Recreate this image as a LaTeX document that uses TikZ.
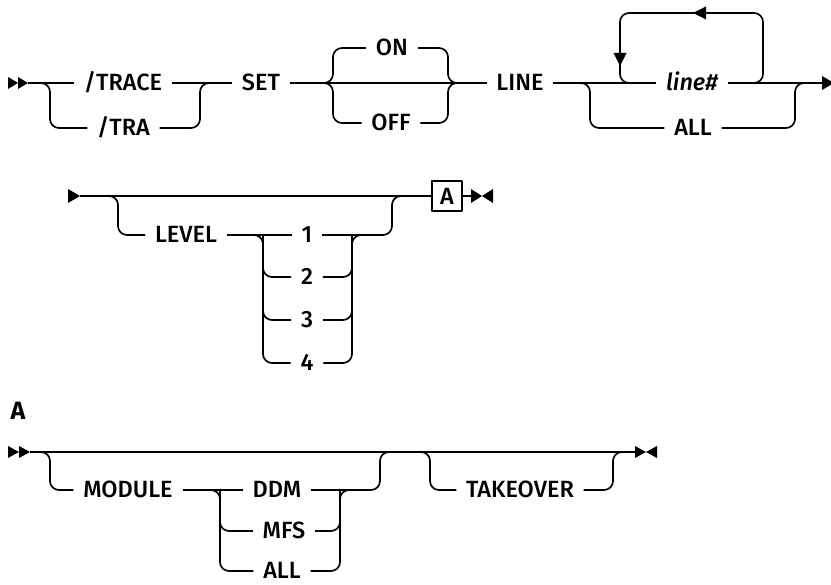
\documentclass[tikz,border=0pt]{standalone}
\usepackage{fontspec}
\setmainfont{Fira Sans}
\newfontfamily\kwfont{Fira Sans Medium}[ItalicFont={Fira Sans Medium Italic}]
\newfontfamily\headfont{Fira Sans}
\begin{document}
\begin{tikzpicture}[x=1pt,y=-1pt, line width=1.7pt, line join=round,
  kw/.style={inner xsep=9pt, inner ysep=0pt, text height=15pt, text depth=0pt, font=\kwfont\fontsize{23.5}{23.5}\selectfont},
  rnd/.style={rounded corners=9pt},
  refbox/.style={draw, line width=1.5pt, minimum width=30pt, minimum height=30pt, inner sep=0pt, font=\kwfont\fontsize{23.5}{23.5}\selectfont},
  tipfill/.style={fill=black, draw=none}]
\useasboundingbox (0,0) rectangle (831,585);

% ---------- Row 1 ----------
\node[kw] (trace) at (123,83) {/TRACE};
\node[kw] (tra) at (123.5,128) {/TRA};
\node[kw] (set) at (261,83) {SET};
\node[kw] (on) at (392,48) {ON};
\node[kw] (off) at (391,123) {OFF};
\node[kw] (line) at (520,83) {LINE};
\node[kw] (linenum) at (692,83) {\itshape line\#};
\node[kw] (all1) at (693,128) {ALL};

\coordinate (start1) at (28,83);
\coordinate (end1) at (823,83);
\coordinate (v1L) at (50,83);
\coordinate (v1R) at (200,83);
\coordinate (v2L) at (333,83);
\coordinate (v2R) at (448,83);
\coordinate (lpBL) at (620,83);
\coordinate (lpTL) at (620,13);
\coordinate (lpTR) at (763,13);
\coordinate (lpBR) at (763,83);
\coordinate (v3L) at (590,83);
\coordinate (v3R) at (795,83);

\fill[tipfill] (8,77) -- (18,83) -- (8,89) -- cycle;
\fill[tipfill] (18,77) -- (28,83) -- (18,89) -- cycle;

\draw (start1) -- (trace);
\draw (trace) -- (set);
\draw (set) -- (line);
\draw (line) -- (linenum);
\draw (linenum) -- (end1);
\fill[tipfill] (822,76) -- (834,83) -- (822,90) -- cycle;

\draw[rnd] ([xshift=-10pt]v1L) -| (v1L |- tra) -- (tra);
\draw[rnd] (tra) -| (v1R) -- ([xshift=10pt]v1R);

\draw[rnd] ([xshift=-10pt]v2L) -| (v2L |- on) -- (on);
\draw[rnd] ([xshift=-10pt]v2L) -| (v2L |- off) -- (off);
\draw[rnd] (on) -| (v2R) -- ([xshift=10pt]v2R);
\draw[rnd] (off) -| (v2R) -- ([xshift=10pt]v2R);

\draw[rnd] ([xshift=10pt]lpBL) -- (lpBL) -- (lpTL) -- (lpTR) -- (lpBR) -- ([xshift=-10pt]lpBR);
\fill[tipfill] (693,13) -- (706,6.5) -- (706,19.5) -- cycle;
\fill[tipfill] (620,66) -- (613.5,53) -- (626.5,53) -- cycle;

\draw[rnd] ([xshift=-10pt]v3L) -| (v3L |- all1) -- (all1);
\draw[rnd] (all1) -| (v3R) -- ([xshift=10pt]v3R);

% ---------- Row 2 ----------
\node[kw] (level) at (186,235) {LEVEL};
\node[kw] (n1) at (307,235) {1};
\node[kw] (n2) at (307,277) {2};
\node[kw] (n3) at (307,320) {3};
\node[kw] (n4) at (307,363) {4};
\node[refbox] (boxA) at (447,196) {A};

\coordinate (start2) at (80,196);
\coordinate (end2) at (472,196);
\coordinate (v4L) at (118,196);
\coordinate (v4R) at (392,196);
\coordinate (g1L) at (263,235);
\coordinate (g1R) at (352,235);

\fill[tipfill] (68,189) -- (80,196) -- (68,203) -- cycle;
\draw (start2) -- (boxA);
\draw (boxA) -- (end2);
\fill[tipfill] (471,189) -- (482,196) -- (471,203) -- cycle;
\fill[tipfill] (493,189) -- (482,196) -- (493,203) -- cycle;

\draw[rnd] ([xshift=-10pt]v4L) -| (v4L |- level) -- (level);
\draw (level) -- (n1);
\draw[rnd] (n1) -| (v4R) -- ([xshift=10pt]v4R);

\draw[rnd] ([xshift=-10pt]g1L) -| (g1L |- n4) -- (n4);
\draw[rnd] (g1L) |- (n2);
\draw[rnd] (g1L) |- (n3);
\draw[rnd] (n4) -| (g1R) -- ([xshift=10pt]g1R);
\draw[rnd] (n2) -| (g1R);
\draw[rnd] (n3) -| (g1R);

% ---------- Row 3 ----------
\node[font=\headfont\bfseries\fontsize{25}{25}\selectfont, inner sep=0pt, text height=15pt, text depth=0pt] (headA) at (18,412) {A};
\node[kw] (module) at (128,490) {MODULE};
\node[kw] (ddm) at (277,490) {DDM};
\node[kw] (mfs) at (284,531) {MFS};
\node[kw] (all3) at (282,571) {ALL};
\node[kw] (takeover) at (520,490) {TAKEOVER};

\coordinate (start3) at (30,452);
\coordinate (end3) at (635,452);
\coordinate (v5L) at (50,452);
\coordinate (v5R) at (380,452);
\coordinate (g2L) at (220,490);
\coordinate (g2R) at (340,490);
\coordinate (v6L) at (430,452);
\coordinate (v6R) at (613,452);

\fill[tipfill] (8,446) -- (19,452) -- (8,458) -- cycle;
\fill[tipfill] (19,446) -- (30,452) -- (19,458) -- cycle;
\draw (start3) -- (end3);
\fill[tipfill] (635,446) -- (646,452) -- (635,458) -- cycle;
\fill[tipfill] (657,446) -- (646,452) -- (657,458) -- cycle;

\draw[rnd] ([xshift=-10pt]v5L) -| (v5L |- module) -- (module);
\draw (module) -- (ddm);
\draw[rnd] (ddm) -| (v5R) -- ([xshift=10pt]v5R);

\draw[rnd] ([xshift=-10pt]g2L) -| (g2L |- all3) -- (all3);
\draw[rnd] (g2L) |- (mfs);
\draw[rnd] (all3) -| (g2R) -- ([xshift=10pt]g2R);
\draw[rnd] (mfs) -| (g2R);

\draw[rnd] ([xshift=-10pt]v6L) -| (v6L |- takeover) -- (takeover);
\draw[rnd] (takeover) -| (v6R) -- ([xshift=10pt]v6R);
\end{tikzpicture}
\end{document}
